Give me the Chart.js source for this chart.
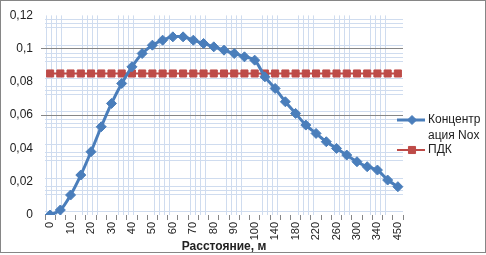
<!DOCTYPE html>
<html>
<head>
<meta charset="utf-8">
<script src="https://cdn.jsdelivr.net/npm/chart.js@4.4.1/dist/chart.umd.min.js"></script>
<style>
  html, body { margin: 0; padding: 0; background: #fff; }
  #wrap { width: 486px; height: 255px; position: relative; }
</style>
</head>
<body>
<div id="wrap"><canvas id="chart"></canvas></div>
<script>
// distance, m
const distances = ['0', '5', '10', '15', '20', '25', '30', '35', '40', '45', '50', '55', '60', '65', '70',
  '75', '80', '85', '90', '95', '100', '120', '140', '160', '180', '200', '220', '240', '260', '280',
  '300', '320', '340', '400', '450'];
// NOx concentration
const concentration = [0, 0.003, 0.012, 0.024, 0.038, 0.053, 0.067, 0.079, 0.089, 0.097, 0.102, 0.105,
  0.107, 0.107, 0.105, 0.103, 0.101, 0.099, 0.097, 0.095, 0.093, 0.083, 0.076, 0.068, 0.061, 0.054,
  0.049, 0.044, 0.040, 0.036, 0.032, 0.029, 0.027, 0.021, 0.017];
// ПДК
const pdk = [0.085, 0.085, 0.085, 0.085, 0.085, 0.085, 0.085, 0.085, 0.085, 0.085, 0.085, 0.085,
  0.085, 0.085, 0.085, 0.085, 0.085, 0.085, 0.085, 0.085, 0.085, 0.085, 0.085, 0.085, 0.085, 0.085,
  0.085, 0.085, 0.085, 0.085, 0.085, 0.085, 0.085, 0.085, 0.085];
const yTicks = [0, 0.02, 0.04, 0.06, 0.08, 0.1, 0.12];

const BLUE = '#4a7ebb';
const RED = '#be4b48';
const GRID = '#868686';
const FONT = '"Liberation Sans", Arial, sans-serif';

const fmt = v => String(+v.toFixed(3)).replace('.', ',');

// light blue textured background of the plot area
const plotTexture = {
  id: 'plotTexture',
  beforeDraw(chart) {
    const { ctx, chartArea: a, scales } = chart;
    ctx.save();
    ctx.fillStyle = '#fff';
    ctx.fillRect(0, 0, chart.width, chart.height);
    ctx.beginPath();
    ctx.rect(a.left, a.top, a.right - a.left, a.bottom - a.top);
    ctx.clip();
    ctx.strokeStyle = '#cfdcef';
    ctx.lineWidth = 1;
    ctx.beginPath();
    for (let x0 = a.left; x0 < a.right; x0 += 36) {
      [1, 6, 11, 16].forEach(o => {
        const x = Math.round(x0 + o) + 0.5;
        ctx.moveTo(x, a.top);
        ctx.lineTo(x, a.bottom);
      });
    }
    yTicks.forEach(v => {
      const y0 = scales.y.getPixelForValue(v);
      [-4, 4, 8, 12].forEach(o => {
        const y = Math.round(y0 + o) + 0.5;
        ctx.moveTo(a.left, y);
        ctx.lineTo(a.right, y);
      });
    });
    ctx.stroke();
    ctx.restore();
  }
};

function wrapText(ctx, text, maxW) {
  const lines = [];
  let cur = '';
  for (const ch of text) {
    if (ctx.measureText(cur + ch).width > maxW && cur) {
      lines.push(cur);
      cur = ch === ' ' ? '' : ch;
    } else {
      cur += ch;
    }
  }
  if (cur) lines.push(cur);
  return lines;
}

// legend on the right, text wrapped like the original
const sideLegend = {
  id: 'sideLegend',
  afterDraw(chart) {
    const { ctx } = chart;
    ctx.save();
    ctx.font = '12px ' + FONT;
    ctx.textBaseline = 'middle';
    let y = 120;
    chart.data.datasets.forEach(ds => {
      ctx.strokeStyle = ds.borderColor;
      ctx.lineWidth = ds.borderWidth;
      ctx.beginPath();
      ctx.moveTo(397, y);
      ctx.lineTo(425, y);
      ctx.stroke();
      ctx.fillStyle = ds.pointBackgroundColor;
      ctx.strokeStyle = ds.pointBackgroundColor;
      ctx.lineWidth = 1;
      Chart.helpers.drawPoint(ctx, { pointStyle: ds.pointStyle, radius: ds.legendRadius, borderWidth: 1 }, 412, y);
      ctx.fillStyle = '#222';
      const lines = wrapText(ctx, ds.label, 56);
      lines.forEach((ln, i) => ctx.fillText(ln, 428, y + i * 16));
      y += (lines.length - 1) * 16 + 14;
    });
    // outer frame
    ctx.strokeStyle = GRID;
    ctx.lineWidth = 1;
    ctx.strokeRect(0.5, 0.5, 485, 252);
    ctx.restore();
  }
};

new Chart(document.getElementById('chart'), {
  type: 'line',
  data: {
    labels: distances,
    datasets: [
      {
        label: 'Концентрация Nox',
        data: concentration,
        borderColor: BLUE,
        backgroundColor: BLUE,
        borderWidth: 3,
        tension: 0.3,
        pointStyle: 'rectRot',
        pointRadius: 5,
        legendRadius: 4.5,
        pointBackgroundColor: BLUE,
        pointBorderColor: BLUE,
        pointBorderWidth: 1
      },
      {
        label: 'ПДК',
        data: pdk,
        borderColor: RED,
        backgroundColor: RED,
        borderWidth: 2,
        pointStyle: 'rect',
        pointRadius: 5,
        legendRadius: 5,
        pointBackgroundColor: RED,
        pointBorderColor: RED,
        pointBorderWidth: 1
      }
    ]
  },
  options: {
    responsive: true,
    maintainAspectRatio: false,
    animation: false,
    layout: { padding: { top: 10, right: 83, bottom: 0, left: 0 } },
    plugins: {
      legend: { display: false },
      tooltip: { enabled: false }
    },
    scales: {
      x: {
        offset: true,
        border: { display: false },
        grid: {
          offset: true,
          drawOnChartArea: false,
          drawTicks: true,
          tickLength: 5,
          color: GRID
        },
        ticks: {
          autoSkip: false,
          maxRotation: 90,
          minRotation: 90,
          padding: 2,
          color: '#222',
          font: { family: FONT, size: 11 },
          callback: (v, i) => (i % 2 === 0 ? distances[i] : '')
        },
        title: {
          display: true,
          text: 'Расстояние, м',
          color: '#222',
          font: { family: FONT, size: 12, weight: 'bold' },
          padding: { top: 0, bottom: 1 }
        },
        afterFit: s => { s.height = 40; }
      },
      y: {
        min: 0,
        max: 0.12,
        border: { display: false },
        grid: {
          tickLength: 4,
          color: c => (c.tick && (Math.abs(c.tick.value - 0.1) < 1e-6 || Math.abs(c.tick.value - 0.06) < 1e-6)) ? GRID : 'rgba(0,0,0,0)'
        },
        ticks: {
          stepSize: 0.02,
          padding: 8,
          color: '#222',
          font: { family: FONT, size: 12 },
          callback: v => fmt(v)
        },
        afterFit: s => { s.width = 45; }
      }
    }
  },
  plugins: [plotTexture, sideLegend]
});
</script>
</body>
</html>
